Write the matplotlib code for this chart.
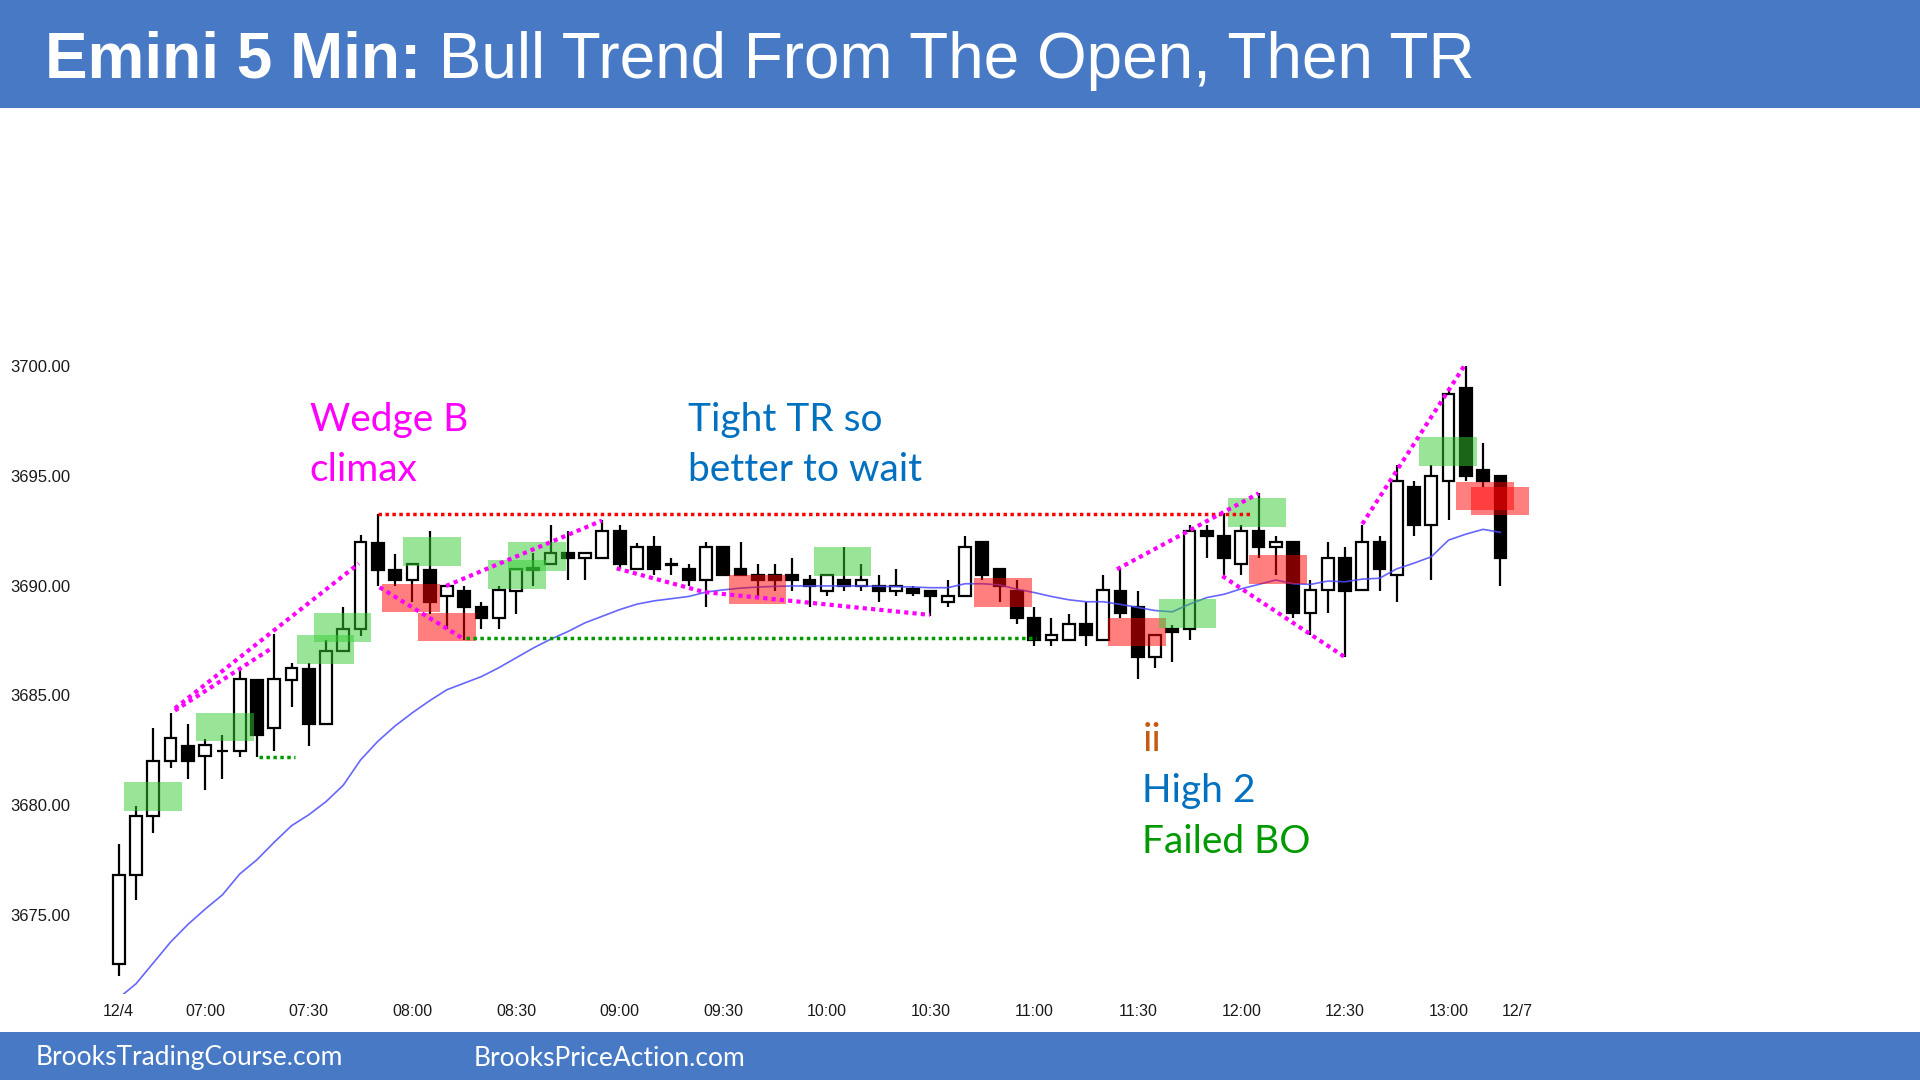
import matplotlib
matplotlib.use("Agg")
import matplotlib.pyplot as plt
from matplotlib.patches import Rectangle

# --- candles (5 min bars, 12/4, 06:35 .. 13:15) ---
opens = [3672.75, 3676.8, 3679.5, 3682.0, 3682.7, 3682.25, 3682.45, 3682.45, 3685.7, 3683.5,
         3685.7, 3686.2, 3683.7, 3687.0, 3688.0, 3691.95, 3690.7, 3690.25, 3690.7, 3689.5,
         3689.75, 3689.0, 3688.5, 3689.75, 3690.7, 3691.0, 3691.5, 3691.25, 3691.25, 3692.5,
         3690.75, 3691.75, 3690.95, 3690.75, 3690.25, 3691.75, 3690.75, 3690.5, 3690.5, 3690.5,
         3690.25, 3689.75, 3690.25, 3690.0, 3690.0, 3689.75, 3689.85, 3689.75, 3689.25, 3689.5,
         3692.0, 3690.75, 3689.75, 3688.5, 3687.5, 3687.5, 3688.25, 3687.5, 3689.75, 3689.0,
         3686.75, 3688.0, 3688.0, 3692.5, 3692.25, 3691.0, 3692.5, 3691.75, 3692.0, 3688.75,
         3689.8, 3691.25, 3689.8, 3692.0, 3690.5, 3694.5, 3692.75, 3694.75, 3699.0, 3695.25,
         3695.0]
highs = [3678.2, 3679.95, 3683.5, 3684.2, 3683.7, 3683.0, 3683.2, 3686.15, 3685.7, 3687.8,
         3686.45, 3686.45, 3687.5, 3689.0, 3692.3, 3693.25, 3691.45, 3691.0, 3692.5, 3690.0,
         3690.0, 3689.25, 3690.0, 3690.75, 3691.5, 3692.75, 3692.5, 3691.5, 3693.0, 3692.75,
         3691.95, 3692.25, 3691.25, 3691.0, 3692.0, 3691.75, 3692.0, 3691.0, 3691.0, 3691.25,
         3690.5, 3690.5, 3691.75, 3691.0, 3690.5, 3690.75, 3690.0, 3689.75, 3690.25, 3692.25,
         3692.0, 3690.75, 3690.25, 3689.0, 3688.5, 3688.7, 3689.25, 3690.5, 3690.75, 3689.75,
         3687.75, 3688.2, 3692.75, 3692.75, 3693.3, 3692.75, 3694.2, 3692.25, 3692.0, 3690.25,
         3692.0, 3691.75, 3692.75, 3692.25, 3695.5, 3694.75, 3695.5, 3699.0, 3700.0, 3696.5,
         3695.0]
lows = [3672.2, 3675.65, 3678.7, 3681.7, 3681.2, 3680.7, 3681.2, 3682.2, 3682.2, 3682.45,
        3684.45, 3682.7, 3683.7, 3687.0, 3687.7, 3690.0, 3690.0, 3689.25, 3688.7, 3688.0,
        3687.5, 3688.0, 3688.0, 3688.7, 3690.0, 3691.0, 3690.25, 3690.25, 3691.25, 3690.75,
        3690.75, 3690.5, 3690.5, 3690.0, 3689.0, 3690.5, 3690.5, 3689.5, 3689.75, 3689.75,
        3689.0, 3689.5, 3689.75, 3689.75, 3689.25, 3689.5, 3689.5, 3688.6, 3689.0, 3689.5,
        3690.25, 3689.25, 3688.25, 3687.25, 3687.25, 3687.5, 3687.25, 3687.5, 3688.5, 3685.75,
        3686.25, 3686.5, 3687.5, 3691.25, 3690.5, 3690.5, 3691.25, 3690.5, 3688.5, 3687.75,
        3688.75, 3686.75, 3689.8, 3689.75, 3689.25, 3692.25, 3690.25, 3693.0, 3694.75, 3694.5,
        3690.0]
closes = [3676.8, 3679.5, 3682.0, 3683.05, 3682.0, 3682.75, 3682.45, 3685.75, 3683.2, 3685.75,
          3686.25, 3683.7, 3687.0, 3688.0, 3692.0, 3690.7, 3690.25, 3691.0, 3689.25, 3690.0,
          3689.0, 3688.5, 3689.8, 3690.75, 3690.8, 3691.5, 3691.25, 3691.5, 3692.5, 3691.0,
          3691.75, 3690.75, 3691.0, 3690.25, 3691.75, 3690.5, 3690.5, 3690.25, 3690.25, 3690.25,
          3690.0, 3690.5, 3690.0, 3690.25, 3689.75, 3690.0, 3689.65, 3689.5, 3689.5, 3691.75,
          3690.5, 3690.0, 3688.5, 3687.5, 3687.75, 3688.25, 3687.75, 3689.8, 3688.75, 3686.75,
          3687.75, 3687.9, 3692.5, 3692.25, 3691.25, 3692.5, 3691.75, 3692.0, 3688.75, 3689.8,
          3691.25, 3689.75, 3692.0, 3690.75, 3694.75, 3692.75, 3695.0, 3698.75, 3695.0, 3694.75,
          3691.25]
# moving average
ema = [3671.2, 3671.85, 3672.8, 3673.75, 3674.55, 3675.25, 3675.9, 3676.85, 3677.5, 3678.3,
       3679.05, 3679.55, 3680.15, 3680.9, 3682.05, 3682.9, 3683.6, 3684.2, 3684.75, 3685.25,
       3685.55, 3685.85, 3686.25, 3686.7, 3687.15, 3687.55, 3687.9, 3688.3, 3688.6, 3688.9,
       3689.15, 3689.3, 3689.4, 3689.5, 3689.7, 3689.8, 3689.88, 3689.93, 3689.96, 3689.98,
       3689.98, 3689.98, 3689.98, 3689.98, 3689.96, 3689.95, 3689.93, 3689.9, 3689.9, 3690.08,
       3690.08, 3690.03, 3689.83, 3689.68, 3689.5, 3689.35, 3689.26, 3689.26, 3689.14, 3689.0,
       3688.86, 3688.8, 3689.15, 3689.45, 3689.6, 3689.85, 3690.05, 3690.25, 3690.08, 3690.05,
       3690.2, 3690.17, 3690.29, 3690.33, 3690.76, 3691.02, 3691.31, 3692.07, 3692.34, 3692.56,
       3692.42]

tick_bars = [0, 5, 11, 17, 23, 29, 35, 41, 47, 53, 59, 65, 71, 77, 81]
tick_labels = ["12/4", "07:00", "07:30", "08:00", "08:30", "09:00", "09:30", "10:00",
               "10:30", "11:00", "11:30", "12:00", "12:30", "13:00", "12/7"]
price_ticks = [3675, 3680, 3685, 3690, 3695, 3700]

# highlighted boxes: (left bar, bottom price, kind)
boxes = [(0.31, 3679.73, "g"), (4.47, 3682.9, "g"), (10.3, 3686.43, "g"), (11.3, 3687.43, "g"),
         (16.47, 3690.9, "g"), (15.24, 3688.78, "r"), (17.34, 3687.45, "r"), (21.4, 3689.84, "g"),
         (22.55, 3690.68, "g"), (35.33, 3689.16, "r"), (40.25, 3690.44, "g"), (49.52, 3689.03, "r"),
         (57.3, 3687.22, "r"), (60.23, 3688.08, "g"), (64.25, 3692.68, "g"), (65.46, 3690.08, "r"),
         (75.3, 3695.46, "g"), (77.43, 3693.44, "r"), (78.3, 3693.21, "r")]

# magenta trend lines (bar, price) polylines
wedge_lines = [
    [(3.25, 3684.4), (13.9, 3691.0)],
    [(3.25, 3684.3), (8.85, 3687.14)],
    [(15.1, 3689.92), (20.0, 3687.55)],
    [(18.95, 3689.98), (27.98, 3692.96)],
    [(28.83, 3690.78), (33.9, 3689.7), (46.97, 3688.66)],
    [(57.8, 3690.74), (66.0, 3694.2)],
    [(63.9, 3690.43), (70.95, 3686.76)],
    [(72.0, 3692.8), (77.9, 3700.0)],
]

BLUE_BAR = "#4779C4"
TXT_BLUE = "#0070C0"

fig = plt.figure(figsize=(19.2, 10.8), dpi=100)
W, H = 1920.0, 1080.0

# layout in pixels: bar 0 at x=118.8, 17.27 px per bar; 3700 at y=366.1 from top, 21.94 px per point
left_px, right_px, top_px, bot_px = 80, 1560, 120, 994
ax = fig.add_axes([left_px / W, 1 - bot_px / H, (right_px - left_px) / W, (bot_px - top_px) / H])
ax.set_xlim((left_px - 118.8) / 17.27, (right_px - 118.8) / 17.27)
ax.set_ylim(3700 - (bot_px - 366.1) / 21.94, 3700 + (366.1 - top_px) / 21.94)

for s in ax.spines.values():
    s.set_visible(False)

bw = 0.68
for i in range(len(opens)):
    o, h, l, c = opens[i], highs[i], lows[i], closes[i]
    ax.plot([i, i], [l, h], color="black", lw=1.6, zorder=2, solid_capstyle="butt")
    lo = min(o, c)
    ht = max(abs(c - o), 0.02)
    fc = "white" if c >= o else "black"
    ax.add_patch(Rectangle((i - bw / 2, lo), bw, ht, facecolor=fc, edgecolor="black",
                           lw=1.6, zorder=3))

ax.plot(range(len(ema)), ema, color="#4B4BFF", lw=1.2, alpha=0.85, zorder=4)

for x0, y0, k in boxes:
    col = (0.2, 0.8, 0.2) if k == "g" else (1.0, 0.0, 0.0)
    ax.add_patch(Rectangle((x0, y0), 3.33, 1.3, facecolor=col, edgecolor="none",
                           alpha=0.5, zorder=5))

dot = (0, (1, 1))
ax.plot([15.0, 65.6], [3693.27, 3693.27], color="red", lw=2.5, ls=dot, zorder=6)
ax.plot([20.1, 53.1], [3687.6, 3687.6], color="#009900", lw=2.5, ls=dot, zorder=6)
ax.plot([8.1, 10.2], [3682.2, 3682.2], color="#009900", lw=2.5, ls=dot, zorder=6)
for line in wedge_lines:
    xs = [p[0] for p in line]
    ys = [p[1] for p in line]
    ax.plot(xs, ys, color="#FF00FF", lw=3.0, ls=dot, zorder=6)

ax.set_xticks(tick_bars)
ax.set_xticklabels(tick_labels)
ax.set_yticks(price_ticks)
ax.set_yticklabels(["%.2f" % p for p in price_ticks])
ax.tick_params(axis="y", length=0, labelsize=12, pad=7)
ax.tick_params(axis="x", length=0, labelsize=11.5, pad=7)
for t in ax.get_xticklabels() + ax.get_yticklabels():
    t.set_fontfamily("Liberation Sans")
    t.set_color("#1a1a1a")

# annotations
ann = dict(fontsize=28, family="Lato", va="baseline", ha="left")
ax.text(11.06, 3697.04, "Wedge B", color="#FF00FF", **ann)
ax.text(11.06, 3694.76, "climax", color="#FF00FF", **ann)
ax.text(32.97, 3697.04, "Tight TR so", color=TXT_BLUE, **ann)
ax.text(32.97, 3694.76, "better to wait", color=TXT_BLUE, **ann)
ax.text(59.27, 3682.47, "ii", color="#C55A11", **ann)
ax.text(59.27, 3680.13, "High 2", color=TXT_BLUE, **ann)
ax.text(59.27, 3677.79, "Failed BO", color="#009900", **ann)

# header and footer bands
fig.patches.append(Rectangle((0, 1 - 108 / H), 1, 108 / H, transform=fig.transFigure,
                             facecolor=BLUE_BAR, edgecolor="none", zorder=0))
fig.patches.append(Rectangle((0, 0), 1, 48 / H, transform=fig.transFigure,
                             facecolor=BLUE_BAR, edgecolor="none", zorder=0))

t1 = fig.text(45 / W, 1 - 78 / H, "Emini 5 Min:", color="white", fontsize=46,
              family="Liberation Sans", weight="bold", va="baseline")
fig.canvas.draw()
bb = t1.get_window_extent()
fig.text(bb.x1 / W, 1 - 78 / H, " Bull Trend From The Open, Then TR", color="white",
         fontsize=46, family="Liberation Sans", va="baseline")

fig.text(35.5 / W, 1 - 1058 / H, "BrooksTradingCourse.com", color="white", fontsize=19,
         family="Lato", va="center")
fig.text(474 / W, 1 - 1058 / H, "BrooksPriceAction.com", color="white", fontsize=19,
         family="Lato", va="center")

fig.savefig("out.png", dpi=100)
